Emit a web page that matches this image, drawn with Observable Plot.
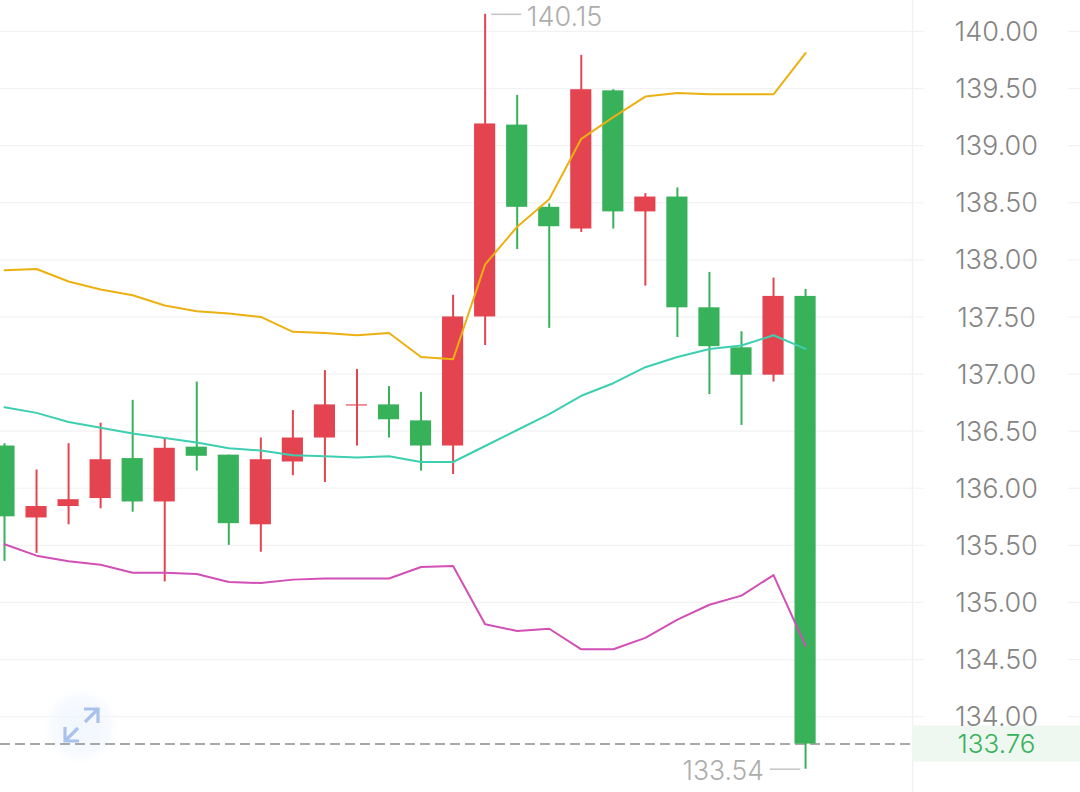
<!DOCTYPE html>
<html>
<head>
<meta charset="utf-8">
<style>html,body{margin:0;padding:0;background:#fff}svg{display:block}</style>
<script src="https://cdn.jsdelivr.net/npm/d3@7"></script>
<script src="https://cdn.jsdelivr.net/npm/@observablehq/plot@0.6"></script>
</head>
<body>
<script>
const open  = [135.75,135.74,135.84,135.91,135.88,135.88,136.28,135.69,135.68,136.23,136.44,136.72,136.60,136.37,136.37,137.50,138.46,138.29,138.27,138.42,138.42,137.58,137.24,136.99,136.99,137.68];
const close = [136.37,135.84,135.90,136.25,136.26,136.35,136.36,136.29,136.25,136.44,136.73,136.73,136.73,136.59,137.50,139.19,139.18,138.46,139.49,139.48,138.55,138.55,137.58,137.23,137.68,133.76];
const high  = [136.39,136.16,136.39,136.57,136.77,136.44,136.93,136.29,136.44,136.68,137.03,137.04,136.89,136.84,137.69,140.15,139.44,138.49,139.79,139.49,138.58,138.63,137.89,137.37,137.84,137.74];
const low   = [135.36,135.43,135.68,135.82,135.79,135.18,136.15,135.50,135.44,136.11,136.05,136.37,136.44,136.15,136.12,137.25,138.09,137.40,138.24,138.27,137.77,137.32,136.82,136.55,136.93,133.54];
const isUp  = [0,1,1,1,0,1,0,0,1,1,1,1,0,0,1,1,0,0,1,0,1,0,0,0,1,0];
const upper = [137.91,137.92,137.81,137.74,137.69,137.60,137.55,137.53,137.50,137.37,137.36,137.34,137.36,137.15,137.13,137.96,138.29,138.53,139.06,139.25,139.43,139.46,139.45,139.45,139.45,139.81];
const middle= [136.71,136.66,136.58,136.53,136.48,136.44,136.40,136.35,136.33,136.29,136.28,136.27,136.28,136.23,136.23,136.37,136.51,136.65,136.81,136.92,137.06,137.15,137.22,137.25,137.34,137.22];
const lower = [135.51,135.41,135.36,135.33,135.26,135.26,135.25,135.18,135.17,135.20,135.21,135.21,135.21,135.31,135.32,134.81,134.75,134.77,134.59,134.59,134.69,134.85,134.98,135.06,135.24,134.62];
const yTicks = [140,139.5,139,138.5,138,137.5,137,136.5,136,135.5,135,134.5,134];
const lastPrice = 133.76, maxPrice = 140.15, minPrice = 133.54;

const RED = "#e4444f", GREEN = "#37b15a";
const idx = d3.range(open.length);
const candles = idx.map(i => ({i, top: Math.max(open[i], close[i]), bottom: Math.min(open[i], close[i]), high: high[i], low: low[i], color: isUp[i] ? RED : GREEN}));
const bandRows = arr => arr.map((v, i) => ({i, v}));
const font = "Inter, 'Noto Sans', sans-serif";
const panelX = 28.34, labelX = 30.96;

// decorative zoom button, not data
const zoomButton = () => {
  const g = d3.create("svg:g");
  const defs = g.append("defs").append("radialGradient").attr("id", "glow");
  defs.append("stop").attr("offset", "0%").attr("stop-color", "#eef5fe").attr("stop-opacity", 0.8);
  defs.append("stop").attr("offset", "75%").attr("stop-color", "#f1f6fe").attr("stop-opacity", 0.6);
  defs.append("stop").attr("offset", "100%").attr("stop-color", "#f8fbff").attr("stop-opacity", 0);
  g.append("circle").attr("cx", 81).attr("cy", 726).attr("r", 38).attr("fill", "url(#glow)");
  g.append("path").attr("d", "M84 709H98V723M98 709L85 722").attr("fill", "none").attr("stroke", "#a9c2ec").attr("stroke-width", 3.2);
  g.append("path").attr("d", "M65 727V741H79M65 741L78 728").attr("fill", "none").attr("stroke", "#a9c2ec").attr("stroke-width", 3.2);
  return g.node();
};

const chart = Plot.plot({
  width: 1080, height: 792,
  marginTop: 0, marginRight: 0, marginBottom: 0, marginLeft: 0,
  style: {background: "#fff", fontFamily: font},
  x: {axis: null, domain: [-0.125, 33.58]},
  y: {axis: null, domain: [133.336, 140.271]},
  marks: [
    Plot.ruleY(yTicks, {x1: -0.125, x2: 28.7, stroke: "#f2f2f2", strokeWidth: 1.2}),
    Plot.ruleY(yTicks, {x1: 33.2, x2: 33.58, stroke: "#f2f2f2", strokeWidth: 1.2}),
    Plot.ruleX([panelX], {stroke: "#f2f2f2", strokeWidth: 1.5}),
    Plot.rect([lastPrice], {x1: panelX, x2: 33.58, y1: d => d - 0.158, y2: d => d + 0.158, fill: "#eef8f1"}),
    zoomButton,
    Plot.ruleY([lastPrice], {x1: -0.125, x2: panelX, stroke: "#a9a9a9", strokeWidth: 2, strokeDasharray: "10 5"}),
    Plot.ruleX(candles, {x: "i", y1: "low", y2: "high", stroke: "color", strokeWidth: 2}),
    Plot.rect(candles, {x1: d => d.i - 0.33, x2: d => d.i + 0.33, y1: "bottom", y2: "top", fill: "color"}),
    Plot.line(bandRows(upper), {x: "i", y: "v", stroke: "#ecb010", strokeWidth: 2}),
    Plot.line(bandRows(middle), {x: "i", y: "v", stroke: "#3dcfb0", strokeWidth: 2}),
    Plot.line(bandRows(lower), {x: "i", y: "v", stroke: "#d24fb5", strokeWidth: 2}),
    Plot.ruleY([maxPrice], {x1: 15.2, x2: 16.14, stroke: "#c4c4c4", strokeWidth: 1.5}),
    Plot.ruleY([minPrice], {x1: 23.9, x2: 24.85, stroke: "#c4c4c4", strokeWidth: 1.5}),
    Plot.text([maxPrice], {x: 16.3, y: d => d, text: d => d.toFixed(2), textAnchor: "start", fontSize: 27, fontWeight: 300, fill: "#adadad", dy: 3}),
    Plot.text([minPrice], {x: 23.7, y: d => d, text: d => d.toFixed(2), textAnchor: "end", fontSize: 26.5, fontWeight: 300, fill: "#adadad", dy: 2}),
    Plot.text(yTicks, {x: labelX, y: d => d, text: d => d.toFixed(2), textAnchor: "middle", fontSize: 27, fontWeight: 300, fill: "#858585", dy: 1}),
    Plot.text([lastPrice], {x: labelX, y: d => d, text: d => d.toFixed(2), textAnchor: "middle", fontSize: 26, fontWeight: 300, fill: "#36b25a", dy: 1})
  ]
});
document.body.appendChild(chart);
</script>
</body>
</html>
